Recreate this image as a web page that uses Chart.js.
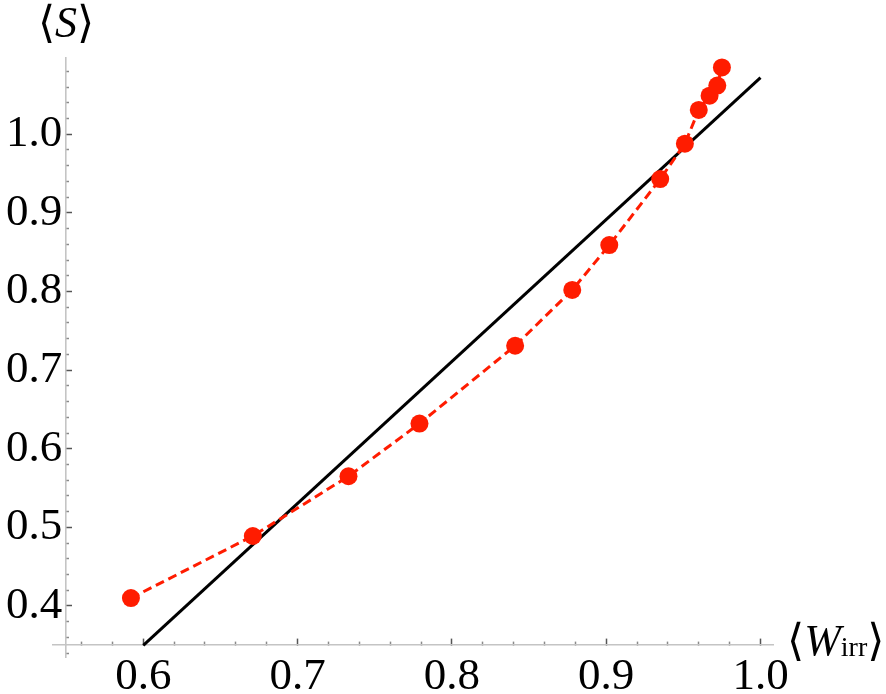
<!DOCTYPE html>
<html>
<head>
<meta charset="utf-8">
<script src="https://cdn.jsdelivr.net/npm/chart.js@4/dist/chart.umd.min.js"></script>
<style>
  html, body { margin: 0; padding: 0; background: #ffffff; }
  #wrap { width: 886px; height: 694px; position: relative; }
</style>
</head>
<body>
<div id="wrap"><canvas id="c" width="886" height="694"></canvas></div>
<script>
// ---- data ----
const wIrr  = [0.592, 0.671, 0.733, 0.779, 0.841, 0.878, 0.902, 0.935, 0.951, 0.960, 0.967, 0.972, 0.975];
const sMean = [0.410, 0.489, 0.565, 0.632, 0.731, 0.802, 0.859, 0.943, 0.988, 1.031, 1.049, 1.062, 1.085];
const refLineW = [0.6, 1.0];
const refLineS = [0.35, 1.072];

// ---- axes ----
const xMajorTicks = [0.6, 0.7, 0.8, 0.9, 1.0];
const yMajorTicks = [0.4, 0.5, 0.6, 0.7, 0.8, 0.9, 1.0];
const xMinorStep = 0.02, yMinorStep = 0.02;
const xTickFrom = 0.56, xTickTo = 1.00;
const yTickFrom = 0.34, yTickTo = 1.08;
const xRange = [0.5415, 1.0081];
const yRange = [0.3351, 1.0970];
const axesCross = { x: 0.55, y: 0.35 };
const xTitle = ['\u27E8', 'W', 'irr', '\u27E9'];
const yTitle = ['\u27E8', 'S', '\u27E9'];

function tickList(from, to, step) {
  const out = [];
  const n = Math.round((to - from) / step);
  for (let i = 0; i <= n; i++) out.push(+(from + i * step).toFixed(4));
  return out;
}
const xTickValues = tickList(xTickFrom, xTickTo, xMinorStep);
const yTickValues = tickList(yTickFrom, yTickTo, yMinorStep);
function isMajor(v, majors) { return majors.some(m => Math.abs(m - v) < 1e-6); }

const FONT = "'Liberation Serif', 'Times New Roman', 'DejaVu Serif', serif";
const RED = 'rgb(255,28,0)';

const titlePlugin = {
  id: 'axisTitles',
  afterDraw(chart) {
    const ctx = chart.ctx;
    const xs = chart.scales.x, ys = chart.scales.y;
    const ax = xs.getPixelForValue(axesCross.x);
    const ay = ys.getPixelForValue(axesCross.y);
    ctx.save();
    ctx.fillStyle = '#000';
    ctx.textBaseline = 'alphabetic';
    ctx.textAlign = 'left';
    const norm = '44px ' + FONT, ital = 'italic 44px ' + FONT, sub = '28px ' + FONT;
    // y title
    const yParts = [[yTitle[0], norm], [yTitle[1], ital], [yTitle[2], norm]];
    let total = 0;
    yParts.forEach(p => { ctx.font = p[1]; total += ctx.measureText(p[0]).width; });
    let px = ax - total / 2;
    const yBase = chart.chartArea.top - 21;
    yParts.forEach(p => { ctx.font = p[1]; ctx.fillText(p[0], px, yBase); px += ctx.measureText(p[0]).width; });
    // x title
    const xParts = [[xTitle[0], norm, 0], [xTitle[1], ital, 0], [xTitle[2], sub, 1], [xTitle[3], norm, 0]];
    px = xs.right + 14;
    const xBase = ay + 10;
    xParts.forEach(p => { ctx.font = p[1]; ctx.fillText(p[0], px, xBase + p[2]); px += ctx.measureText(p[0]).width; });
    ctx.restore();
  }
};

function axisGrid(majors) {
  return {
    display: true,
    drawOnChartArea: false,
    drawTicks: true,
    tickLength: -7,
    tickWidth: 1.5,
    tickColor: c => (c.tick && isMajor(c.tick.value, majors)) ? '#555555' : '#8a8a8a',
    tickBorderDash: c => (c.tick && isMajor(c.tick.value, majors)) ? [] : [4, 30]
  };
}

new Chart(document.getElementById('c'), {
  type: 'scatter',
  data: {
    datasets: [
      {
        label: 'data',
        data: wIrr.map((w, i) => ({ x: w, y: sMean[i] })),
        showLine: true,
        borderColor: RED,
        backgroundColor: RED,
        borderWidth: 3,
        borderDash: [9, 5],
        pointRadius: 9,
        pointHoverRadius: 9,
        pointBorderWidth: 0,
        pointBackgroundColor: RED,
        tension: 0
      },
      {
        label: 'line',
        data: refLineW.map((w, i) => ({ x: w, y: refLineS[i] })),
        showLine: true,
        borderColor: '#000000',
        borderWidth: 3,
        pointRadius: 0,
        pointHoverRadius: 0,
        tension: 0
      }
    ]
  },
  options: {
    responsive: false,
    animation: false,
    events: [],
    layout: { padding: { left: 53, right: 113, top: 58, bottom: 37 } },
    plugins: { legend: { display: false }, title: { display: false }, tooltip: { enabled: false } },
    scales: {
      x: {
        type: 'linear',
        min: xRange[0], max: xRange[1],
        position: { y: axesCross.y },
        afterBuildTicks: s => { s.ticks = xTickValues.map(v => ({ value: v })); },
        ticks: {
          autoSkip: false, maxRotation: 0, minRotation: 0,
          padding: 16,
          color: '#000',
          font: { family: FONT, size: 45, lineHeight: 1 },
          callback: v => isMajor(v, xMajorTicks) ? v.toFixed(1) : ''
        },
        grid: axisGrid(xMajorTicks),
        border: { display: true, color: '#c4c4c4', width: 1.6 }
      },
      y: {
        type: 'linear',
        min: yRange[0], max: yRange[1],
        position: { x: axesCross.x },
        afterBuildTicks: s => { s.ticks = yTickValues.map(v => ({ value: v })); },
        ticks: {
          autoSkip: false,
          color: '#000',
          font: { family: FONT, size: 45, lineHeight: 1 },
          callback: v => isMajor(v, yMajorTicks) ? v.toFixed(1) + '\u200A' : ''
        },
        grid: axisGrid(yMajorTicks),
        border: { display: true, color: '#c4c4c4', width: 1.6 }
      }
    }
  },
  plugins: [titlePlugin]
});
</script>
</body>
</html>
